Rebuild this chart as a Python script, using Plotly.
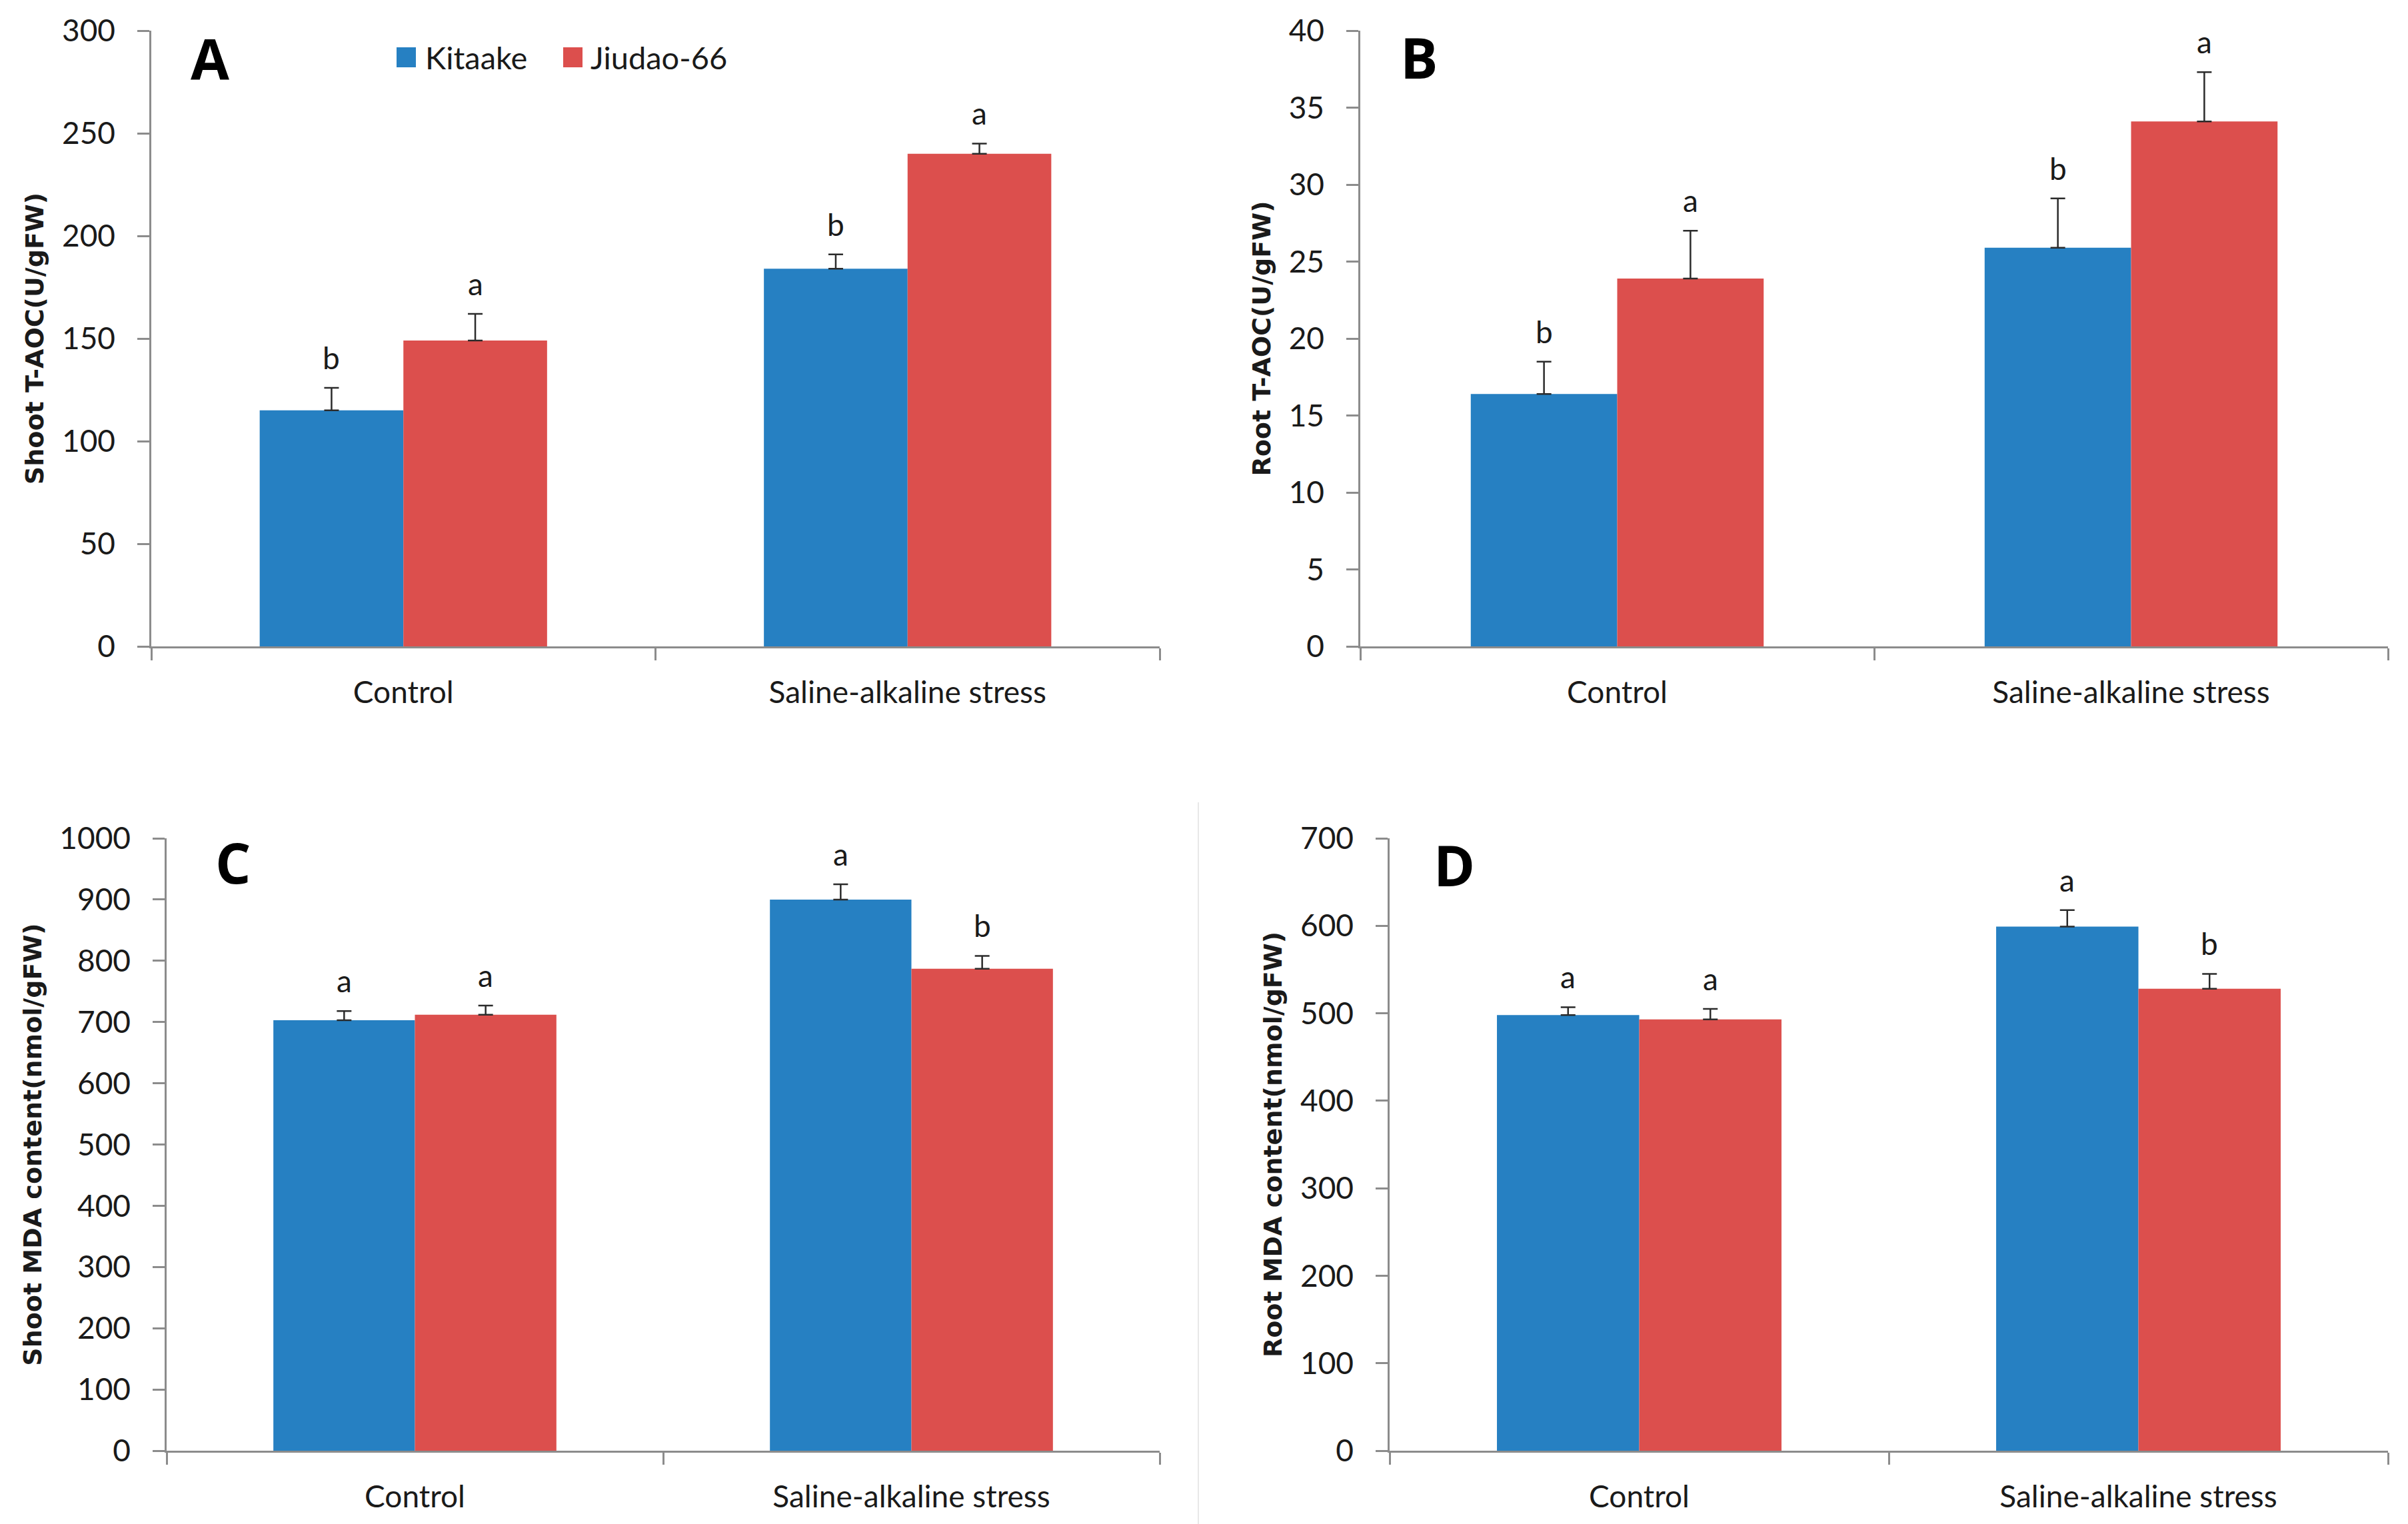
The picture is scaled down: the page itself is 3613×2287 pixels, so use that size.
import plotly.graph_objects as go

categories = ["Control", "Saline-alkaline stress"]
series_names = ["Kitaake", "Jiudao-66"]

shoot_taoc_kit = [115, 184]
shoot_taoc_kit_err = [11, 7]
shoot_taoc_jiu = [149, 240]
shoot_taoc_jiu_err = [13, 5]
shoot_taoc_letters_kit = ["b", "b"]
shoot_taoc_letters_jiu = ["a", "a"]

root_taoc_kit = [16.4, 25.9]
root_taoc_kit_err = [2.1, 3.2]
root_taoc_jiu = [23.9, 34.1]
root_taoc_jiu_err = [3.1, 3.2]
root_taoc_letters_kit = ["b", "b"]
root_taoc_letters_jiu = ["a", "a"]

shoot_mda_kit = [703, 900]
shoot_mda_kit_err = [15, 25]
shoot_mda_jiu = [712, 787]
shoot_mda_jiu_err = [15, 21]
shoot_mda_letters_kit = ["a", "a"]
shoot_mda_letters_jiu = ["a", "b"]

root_mda_kit = [498, 599]
root_mda_kit_err = [9, 19]
root_mda_jiu = [493, 528]
root_mda_jiu_err = [12, 17]
root_mda_letters_kit = ["a", "a"]
root_mda_letters_jiu = ["a", "b"]

y_titles = ["Shoot T-AOC(U/gFW)", "Root T-AOC(U/gFW)",
            "Shoot MDA content(nmol/gFW)", "Root MDA content(nmol/gFW)"]
panel_labels = ["A", "B", "C", "D"]
y_max = [300, 40, 1000, 700]
y_dtick = [50, 5, 100, 100]

BLUE = "#2680C2"
RED = "#DC4F4D"
AXIS = "#8C8C8C"
TXT = "#1a1a1a"
BODY_FONT = "Lato, Open Sans, sans-serif"
TICK_FONT = dict(family=BODY_FONT, size=46, color=TXT)

W, H, OFF = 3613, 2287, 8


def PX(px):
    return (px - OFF) / W


def PY(py):
    return 1 - (py - OFF) / H


panels = [
    (shoot_taoc_kit, shoot_taoc_kit_err, shoot_taoc_jiu, shoot_taoc_jiu_err, shoot_taoc_letters_kit, shoot_taoc_letters_jiu),
    (root_taoc_kit, root_taoc_kit_err, root_taoc_jiu, root_taoc_jiu_err, root_taoc_letters_kit, root_taoc_letters_jiu),
    (shoot_mda_kit, shoot_mda_kit_err, shoot_mda_jiu, shoot_mda_jiu_err, shoot_mda_letters_kit, shoot_mda_letters_jiu),
    (root_mda_kit, root_mda_kit_err, root_mda_jiu, root_mda_jiu_err, root_mda_letters_kit, root_mda_letters_jiu),
]

# plot-area boxes in pixels: (left, right, top, bottom)
boxes = [(227, 1740, 46, 970), (2041, 3583, 46, 970), (250, 1740, 1258, 2177), (2085, 3583, 1258, 2177)]
label_px = [(315, 87), (2129, 85), (350, 1293), (2182, 1297)]

BARGAP = 0.43
half = (1 - BARGAP) / 4

fig = go.Figure()
annotations = []
layout = {}
for i, (kit, kit_err, jiu, jiu_err, lk, lj) in enumerate(panels):
    n = "" if i == 0 else str(i + 1)
    xa, ya = "x" + n, "y" + n
    l, r, t, b = boxes[i]
    for name, vals, errs, color in [(series_names[0], kit, kit_err, BLUE),
                                     (series_names[1], jiu, jiu_err, RED)]:
        fig.add_trace(go.Bar(
            x=categories, y=vals, name=name, marker=dict(color=color, line=dict(width=0)),
            error_y=dict(type="data", array=errs, arrayminus=[0] * len(errs), symmetric=False,
                         color="#2b2b2b", thickness=2.5, width=11),
            xaxis=xa, yaxis=ya, showlegend=False, legendgroup=name,
        ))
    for j in range(len(categories)):
        for offs, v, e, letter in [(-half, kit[j], kit_err[j], lk[j]), (half, jiu[j], jiu_err[j], lj[j])]:
            annotations.append(dict(
                x=j + offs, y=v + e, xref=xa, yref=ya, text=letter, showarrow=False,
                yanchor="bottom", yshift=16,
                font=dict(family=BODY_FONT, size=46, color=TXT)))
    layout["xaxis" + n] = dict(
        domain=[PX(l), PX(r)], anchor=ya, type="category", range=[-0.5, 1.5],
        showline=True, linecolor=AXIS, linewidth=2.5, ticks="outside", tickson="boundaries",
        ticklen=18, tickcolor=AXIS, tickwidth=2.5, tickfont=TICK_FONT, ticklabelstandoff=27,
        showgrid=False, zeroline=False, fixedrange=True, automargin=False)
    layout["yaxis" + n] = dict(
        domain=[PY(b), PY(t)], anchor=xa, range=[0, y_max[i]], dtick=y_dtick[i],
        showline=True, linecolor=AXIS, linewidth=2.5, ticks="outside", ticklen=18,
        tickcolor=AXIS, tickwidth=2.5, tickfont=TICK_FONT, ticklabelstandoff=24,
        showgrid=False, zeroline=False, automargin=False,
        title=dict(text=y_titles[i], font=dict(family="DejaVu Sans, Verdana, sans-serif",
                                                 size=38, color=TXT, weight="bold"),
                   standoff=16))
    annotations.append(dict(
        x=PX(label_px[i][0]), y=PY(label_px[i][1]), xref="paper", yref="paper",
        text="<b>" + panel_labels[i] + "</b>", showarrow=False, xanchor="center", yanchor="middle",
        font=dict(family="Open Sans, sans-serif", size=84, color="#000")))

# custom legend (large square swatches), pixel boxes
legend_swatch_px = [(595, 624), (845, 874)]
legend_text_px = [636, 884]
shapes = []
for (x0, x1), tx, name, color in zip(legend_swatch_px, legend_text_px, series_names, [BLUE, RED]):
    shapes.append(dict(type="rect", xref="paper", yref="paper", x0=PX(x0), x1=PX(x1),
                       y0=PY(101), y1=PY(71), fillcolor=color, line=dict(width=0)))
    annotations.append(dict(x=PX(tx), y=PY(86), xref="paper", yref="paper", text=name,
                            showarrow=False, xanchor="left", yanchor="middle",
                            font=dict(family=BODY_FONT, size=47, color=TXT)))
shapes.append(dict(type="line", xref="paper", yref="paper", x0=PX(1798), x1=PX(1798),
                   y0=0.0, y1=PY(1204), line=dict(color="#e8e8e8", width=2)))

fig.update_layout(
    width=W, height=H, margin=dict(l=0, r=0, t=0, b=0),
    paper_bgcolor="white", plot_bgcolor="white",
    barmode="group", bargap=BARGAP, bargroupgap=0,
    showlegend=False,
    annotations=annotations,
    shapes=shapes,
    **layout,
)

fig.write_html("out.html")
